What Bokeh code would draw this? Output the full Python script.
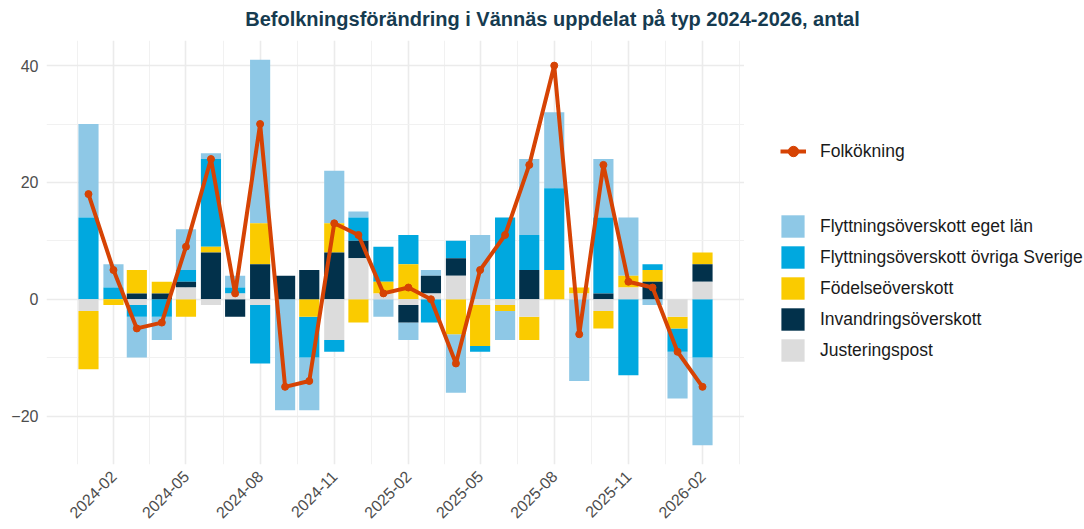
import math
import pandas as pd
from bokeh.plotting import figure
from bokeh.layouts import row, column
from bokeh.models import (ColumnDataSource, Range1d, FixedTicker, DatetimeTickFormatter,
                          Legend, LegendItem, Label)
from bokeh.embed import file_html
from bokeh.resources import INLINE

# ---------------- data ----------------
months = ["2024-01", "2024-02", "2024-03", "2024-04", "2024-05", "2024-06", "2024-07",
          "2024-08", "2024-09", "2024-10", "2024-11", "2024-12", "2025-01", "2025-02",
          "2025-03", "2025-04", "2025-05", "2025-06", "2025-07", "2025-08", "2025-09",
          "2025-10", "2025-11", "2025-12", "2026-01", "2026-02"]

eget_lan = [16, 4, -7, -4, 7, 1, 2, 28, -19, -9, 9, 1, -3, -3, 1, -10, 11, -5, 13, 13, -14, 10, 10, -1, -8, -15]
ovriga_sverige = [14, 2, -2, -3, 2, 15, 1, -10, 0, -7, -2, 4, 6, 5, -4, 3, -1, 14, 6, 14, 0, 13, -13, 1, -4, -10]
fodelse = [-10, -1, 4, 2, -3, 1, 0, 7, 0, -3, 5, -4, 2, 6, 0, -6, -7, -1, -4, 5, 1, -3, 2, 2, -2, 2]
invandring = [0, 0, 1, 1, 1, 8, -3, 6, 4, 5, 8, 3, 0, -3, 3, 3, 0, 0, 5, 0, 0, 1, 0, 3, 0, 3]
justering = [-2, 0, -1, 0, 2, -1, 1, -1, 0, 0, -7, 7, 1, -1, 1, 4, -1, -1, -3, 0, 1, -2, 2, 0, -3, 3]
folkokning = [18, 5, -5, -4, 9, 24, 1, 30, -15, -14, 13, 11, 1, 2, 0, -11, 5, 11, 23, 40, -6, 23, 3, 2, -9, -15]

tick_months = ["2024-02", "2024-05", "2024-08", "2024-11", "2025-02", "2025-05",
               "2025-08", "2025-11", "2026-02"]
y_ticks = [-20, 0, 20, 40]
y_minor = [-10, 10, 30]

series_names = ["Flyttningsöverskott eget län", "Flyttningsöverskott övriga Sverige",
                "Födelseöverskott", "Invandringsöverskott", "Justeringspost"]
series_values = [eget_lan, ovriga_sverige, fodelse, invandring, justering]
series_colors = ["#8EC8E6", "#00A8DF", "#FACB00", "#02314B", "#DCDCDC"]
line_color = "#D64304"
line_label = "Folkökning"

title_text = "Befolkningsförändring i Vännäs uppdelat på typ 2024-2026, antal"

# ---------------- prep ----------------
dates = pd.to_datetime([m + "-01" for m in months])
day = pd.Timedelta(days=1)

# stacking: first series outermost (ggplot order), stack from zero outwards
n = len(months)
pos = [0.0] * n
neg = [0.0] * n
stacks = {}
for name, vals in reversed(list(zip(series_names, series_values))):
    bottoms, tops = [], []
    for i, v in enumerate(vals):
        if v >= 0:
            bottoms.append(pos[i]); tops.append(pos[i] + v); pos[i] += v
        else:
            bottoms.append(neg[i]); tops.append(neg[i] + v); neg[i] += v
    stacks[name] = (bottoms, tops)

x_start = (dates[0] - 52.1 * day).to_pydatetime()
x_end = (dates[-1] + 52.1 * day).to_pydatetime()

# ---------------- title strip ----------------
tf = figure(width=1084, height=40, output_backend="svg", toolbar_location=None, title=None,
            x_range=Range1d(0, 1084), y_range=Range1d(0, 40),
            x_axis_location=None, y_axis_location=None,
            min_border_left=0, min_border_right=0, min_border_top=0, min_border_bottom=0)
tf.outline_line_color = None
tf.xgrid.visible = False
tf.ygrid.visible = False
tf.add_layout(Label(x=552, y=22, text=title_text, text_align="center", text_baseline="middle",
                    text_font="Liberation Sans", text_font_style="bold", text_font_size="20px",
                    text_color="#163B50"))

# ---------------- main plot ----------------
p = figure(width=744, height=489, x_axis_type="datetime", output_backend="svg",
           toolbar_location=None, title=None, x_range=Range1d(x_start, x_end),
           y_range=Range1d(-28.3, 44.3),
           min_border_left=46, min_border_right=0, min_border_top=0, min_border_bottom=65)
p.outline_line_color = None
p.background_fill_color = "white"
p.border_fill_color = "white"

tick_ms = [int(t) for t in (pd.to_datetime([m + "-01" for m in tick_months]).astype("int64") // 10**6)]
minor_ms = [(a + b) // 2 for a, b in zip(tick_ms[:-1], tick_ms[1:])]
minor_ms = [tick_ms[0] - (minor_ms[0] - tick_ms[0])] + minor_ms + [tick_ms[-1] + (tick_ms[-1] - minor_ms[-1])]
xt = FixedTicker(ticks=tick_ms, minor_ticks=minor_ms)
yt = FixedTicker(ticks=y_ticks, minor_ticks=y_minor)

p.xaxis.ticker = xt
p.yaxis.ticker = yt
p.xgrid.ticker = xt
p.ygrid.ticker = yt
fmt = "%Y-%m"
p.xaxis.formatter = DatetimeTickFormatter(days=fmt, months=fmt, years=fmt, hours=fmt,
                                          minutes=fmt, seconds=fmt, milliseconds=fmt,
                                          microseconds=fmt, minsec=fmt, hourmin=fmt)
for g in (p.xgrid, p.ygrid):
    g.grid_line_color = "#EBEBEB"
    g.grid_line_width = 1.6
    g.minor_grid_line_color = "#F1F1F1"
    g.minor_grid_line_width = 1.1

for ax in (p.xaxis, p.yaxis):
    ax.axis_line_color = None
    ax.major_tick_line_color = None
    ax.minor_tick_line_color = None
    ax.major_tick_out = 0
    ax.major_tick_in = 0
    ax.minor_tick_out = 0
    ax.minor_tick_in = 0
    ax.major_label_text_font = "Liberation Sans"
    ax.major_label_text_font_size = "16px"
    ax.major_label_text_color = "#4D4D4D"
p.xaxis.major_label_orientation = math.pi / 4
p.xaxis.major_label_standoff = 9
p.yaxis.major_label_standoff = 8

bar_width = 25 * day
bar_sources = []
for name, color in zip(series_names, series_colors):
    b, t = stacks[name]
    src = ColumnDataSource(dict(x=dates, bottom=b, top=t))
    bar_sources.append(src)
    p.vbar(x="x", width=bar_width, bottom="bottom", top="top", source=src,
           fill_color=color, line_color=None)

lsrc = ColumnDataSource(dict(x=dates, y=folkokning))
p.line(x="x", y="y", source=lsrc, line_color=line_color, line_width=4, line_join="round")
p.scatter(x="x", y="y", source=lsrc, size=7, fill_color=line_color, line_color=line_color)

# ---------------- legend panel ----------------
lg = figure(width=340, height=489, output_backend="svg", toolbar_location=None, title=None,
            x_range=Range1d(0, 1), y_range=Range1d(0, 1),
            x_axis_location=None, y_axis_location=None,
            min_border_left=0, min_border_right=0, min_border_top=0, min_border_bottom=0)
lg.outline_line_color = None
lg.xgrid.visible = False
lg.ygrid.visible = False
lg.border_fill_color = "white"
lg.background_fill_color = "white"

# legend-only renderers (same data, far outside this panel's ranges)
lr = lg.line(x="x", y="y", source=lsrc, line_color=line_color, line_width=4)
sr = lg.scatter(x="x", y="y", source=lsrc, size=7, fill_color=line_color, line_color=line_color)
bar_renderers = [lg.vbar(x="x", width=bar_width, bottom="bottom", top="top", source=s,
                         fill_color=c, line_color=None)
                 for s, c in zip(bar_sources, series_colors)]

common = dict(padding=0, margin=0, border_line_color=None, background_fill_alpha=0,
              label_text_font="Liberation Sans", label_text_font_size="17.5px",
              label_text_color="#1A1A1A")
leg1 = Legend(items=[LegendItem(label=line_label, renderers=[lr, sr])],
              location=(36, 299), glyph_width=26, glyph_height=28, label_standoff=14,
              label_height=28, **common)
leg2 = Legend(items=[LegendItem(label=nm, renderers=[r]) for nm, r in zip(series_names, bar_renderers)],
              location=(34, 100), glyph_width=29, glyph_height=28, label_standoff=13,
              spacing=3, label_height=28, **common)
lg.add_layout(leg1)
lg.add_layout(leg2)

layout = column(tf, row(p, lg, spacing=0), spacing=0)
open("out.html", "w").write(file_html(layout, INLINE))
